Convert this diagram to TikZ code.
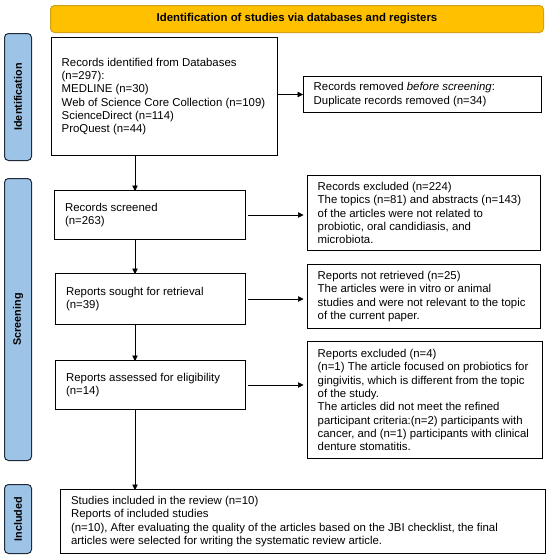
\documentclass[tikz,border=0pt]{standalone}
\usepackage{fontspec}
\setmainfont{Liberation Sans}
\usetikzlibrary{arrows.meta}
\definecolor{bannerfill}{HTML}{FFC000}
\definecolor{bannerline}{HTML}{D4A017}
\definecolor{sidefill}{HTML}{9DC3E6}
\definecolor{sideline}{HTML}{1F2A3A}
\tikzset{
  flowbox/.style={draw=black, line width=1pt, anchor=north west, inner sep=0pt},
  boxtext/.style={anchor=west, align=left, inner sep=0pt, font=\fontsize{11.4}{13.3}\selectfont},
  sidebox/.style={draw=sideline, fill=sidefill, line width=1pt, rounded corners=4pt, anchor=north west, inner sep=0pt, minimum width=27pt},
  sidetext/.style={font=\fontsize{10.8}{12}\selectfont\bfseries, rotate=90},
  conn/.style={-{Triangle[length=5.5pt,width=5.5pt]}, line width=0.6pt}
}
\begin{document}
\begin{tikzpicture}[x=1pt,y=-1pt]
\useasboundingbox (0,0) rectangle (550,560);
% banner
\node[draw=bannerline, fill=bannerfill, line width=1pt, rounded corners=4pt, anchor=north west, minimum width=493pt, minimum height=27pt, inner sep=0pt, font=\fontsize{11.4}{13}\selectfont\bfseries] (banner) at (50,5) {Identification of studies via databases and registers};
% side labels
\node[sidebox, minimum height=127pt] (sid) at (4,33) {};
\node[sidetext] (sidt) at (sid.center) {Identification};
\node[sidebox, minimum height=282pt] (ssc) at (4,178) {};
\node[sidetext] (ssct) at (ssc.center) {Screening};
\node[sidebox, minimum height=69pt] (sin) at (4,484) {};
\node[sidetext] (sint) at (sin.center) {Included};
% left column
\node[flowbox, minimum width=226pt, minimum height=118pt] (rec) at (51,37) {};
\node[boxtext] (rect) at ([xshift=10.5pt]rec.west) {Records identified from Databases\\(n=297):\\MEDLINE (n=30)\\Web of Science Core Collection (n=109)\\ScienceDirect (n=114)\\ProQuest (n=44)};
\node[flowbox, minimum width=191pt, minimum height=49pt] (scr) at (54.4,190) {};
\node[boxtext] (scrt) at ([xshift=10.5pt]scr.west) {Records screened\\(n=263)};
\node[flowbox, minimum width=190pt, minimum height=51pt] (sou) at (55.4,273) {};
\node[boxtext] (sout) at ([xshift=10.5pt]sou.west) {Reports sought for retrieval\\(n=39)};
\node[flowbox, minimum width=190pt, minimum height=49pt] (ass) at (55.4,360) {};
\node[boxtext] (asst) at ([xshift=10.5pt]ass.west) {Reports assessed for eligibility\\(n=14)};
\node[flowbox, minimum width=484.6pt, minimum height=64pt] (inc) at (60.4,489) {};
\node[boxtext] (inct) at ([xshift=10.5pt]inc.west) {Studies included in the review (n=10)\\Reports of included studies\\(n=10), After evaluating the quality of the articles based on the JBI checklist, the final\\articles were selected for writing the systematic review article.};
% right column
\node[flowbox, minimum width=238pt, minimum height=36pt] (rem) at (303,76) {};
\node[boxtext] (remt) at ([xshift=10.5pt]rem.west) {Records removed \emph{before screening}:\\Duplicate records removed (n=34)};
\node[flowbox, minimum width=233pt, minimum height=75pt] (exc) at (307,175) {};
\node[boxtext] (exct) at ([xshift=10.5pt]exc.west) {Records excluded (n=224)\\The topics (n=81) and abstracts (n=143)\\of the articles were not related to\\probiotic, oral candidiasis, and\\microbiota.};
\node[flowbox, minimum width=233pt, minimum height=64pt] (nre) at (307,264) {};
\node[boxtext] (nret) at ([xshift=10.5pt]nre.west) {Reports not retrieved (n=25)\\The articles were in vitro or animal\\studies and were not relevant to the topic\\of the current paper.};
\node[flowbox, minimum width=235pt, minimum height=117pt] (exr) at (307,341) {};
\node[boxtext] (exrt) at ([xshift=10.5pt]exr.west) {Reports excluded (n=4)\\(n=1) The article focused on probiotics for\\gingivitis, which is different from the topic\\of the study.\\The articles did not meet the refined\\participant criteria:(n=2) participants with\\cancer, and (n=1) participants with clinical\\denture stomatitis.};
% connectors
\coordinate (c1) at (135,155);
\draw[conn] (rec.east |- rem.west) -- (rem.west);
\draw[conn] (rec.south -| c1) -- ([yshift=-1pt]scr.north -| c1);
\draw[conn] ([xshift=2pt]scr.east) -- ([xshift=-3.5pt]exc.west |- scr.east);
\draw[conn] (scr.south -| c1) -- ([yshift=-1pt]sou.north -| c1);
\draw[conn] ([xshift=2pt]sou.east) -- ([xshift=-3.5pt]nre.west |- sou.east);
\draw[conn] (sou.south -| c1) -- ([yshift=-1pt]ass.north -| c1);
\draw[conn] ([xshift=2pt]ass.east) -- ([xshift=-3.5pt]exr.west |- ass.east);
\draw[conn] (ass.south -| c1) -- ([yshift=-1pt]inc.north -| c1);
\end{tikzpicture}
\end{document}
